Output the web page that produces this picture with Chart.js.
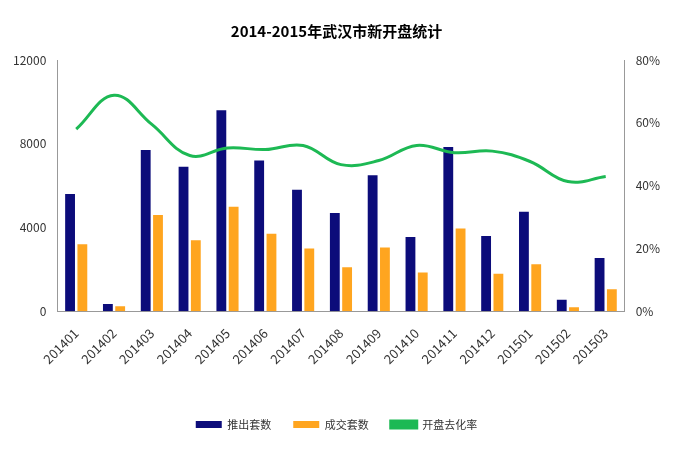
<!DOCTYPE html>
<html><head><meta charset="utf-8">
<script src="https://cdn.jsdelivr.net/npm/chart.js@4"></script>
<style>body{margin:0;background:#fff}#w{width:677px;height:454px}</style>
</head><body><div id="w"><canvas id="c"></canvas></div>
<script>
const categories=["201401","201402","201403","201404","201405","201406","201407","201408","201409","201410","201411","201412","201501","201502","201503"];
const launched=[5600,350,7700,6900,9600,7200,5800,4700,6500,3550,7850,3600,4750,550,2550];
const sold=[3200,240,4600,3400,5000,3700,3000,2100,3050,1850,3950,1800,2250,200,1050];
const rate=[58,68.8,59.5,49.6,52,51.5,52.8,46.7,48,52.8,50.5,51,47.7,41.3,42.9];
const leftTicks=[0,4000,8000,12000];
Chart.defaults.font.family="'Noto Sans CJK SC','DejaVu Sans',sans-serif";
Chart.defaults.color="#333";
new Chart(document.getElementById('c'),{
data:{labels:categories,datasets:[
{type:'line',label:'开盘去化率',data:rate,yAxisID:'y1',borderColor:'#1db954',backgroundColor:'#1db954',borderWidth:3,pointRadius:0,tension:0.4,order:0},
{type:'bar',label:'推出套数',data:launched,yAxisID:'y',backgroundColor:'#0c0c7a',barPercentage:0.8,categoryPercentage:0.65,order:1},
{type:'bar',label:'成交套数',data:sold,yAxisID:'y',backgroundColor:'#ffa51f',barPercentage:0.8,categoryPercentage:0.65,order:1}
]},
options:{responsive:true,maintainAspectRatio:false,animation:false,
layout:{padding:{left:10,right:14,top:0,bottom:14}},
plugins:{title:{display:true,text:'2014-2015年武汉市新开盘统计',font:{size:15,weight:'bold'},color:'#000',padding:{top:22,bottom:20}},
legend:{position:'bottom',labels:{boxWidth:26,boxHeight:7,padding:22,font:{size:11},
generateLabels(ch){const o=Chart.defaults.plugins.legend.labels.generateLabels(ch);const ord=[1,2,0];return ord.map(i=>{const l=o[i];if(i===0){l.pointStyle='line';l.lineWidth=3;l.strokeStyle='#1db954';}else{l.lineWidth=0;}return l;});},
usePointStyle:false}},tooltip:{enabled:false}},
scales:{x:{grid:{display:false},border:{color:'#999'},ticks:{maxRotation:45,minRotation:45,padding:6,font:{size:13}},afterFit(s){s.height+=24;}},
y:{min:0,max:12000,afterBuildTicks(s){s.ticks=leftTicks.map(v=>({value:v}));},grid:{display:false},border:{color:'#999'},ticks:{font:{size:12},callback:v=>String(v)}},
y1:{position:'right',min:0,max:80,ticks:{stepSize:20,callback:v=>v+'%',font:{size:12}},grid:{display:false},border:{color:'#999'}}}}
});
</script></body></html>
